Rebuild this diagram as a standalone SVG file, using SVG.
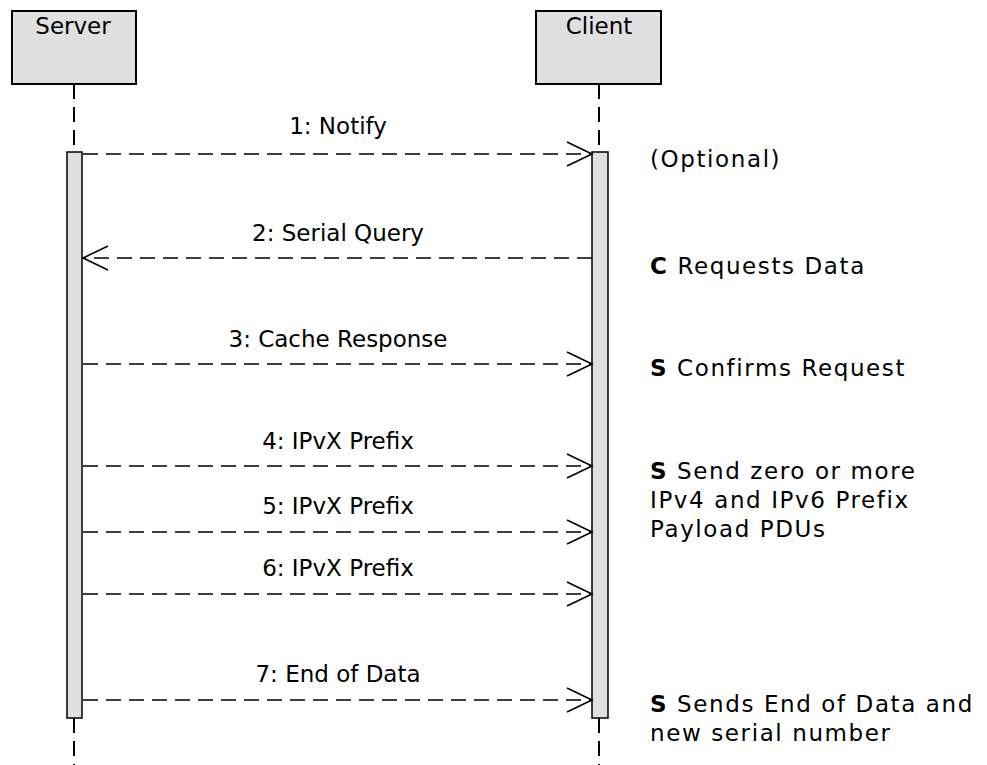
<svg xmlns="http://www.w3.org/2000/svg" width="987" height="765" viewBox="0 0 987 765">
<defs>
<style>
.box{fill:#e0e0e0;stroke:#000;stroke-width:2}
.bar{fill:#e0e0e0;stroke:#000;stroke-width:1.5}
.life{stroke:#000;stroke-width:2;stroke-dasharray:15,8;fill:none}
.msg{stroke:#000;stroke-width:1.6;stroke-dasharray:15,8;fill:none}
.head{stroke:#000;stroke-width:1.6;fill:none}
text{font-family:"DejaVu Sans",sans-serif;font-size:23px;fill:#000}
.lbl{text-anchor:middle}
.ttl{text-anchor:middle}
.nt{font-size:23px;letter-spacing:1.6px}
</style>
</defs>
<g id="server">
<rect class="box" x="12" y="11" width="124" height="73"/>
<text class="ttl" x="73" y="34">Server</text>
<line class="life" x1="74" y1="84" x2="74" y2="152"/>
<line class="life" x1="74" y1="718" x2="74" y2="765"/>
<rect class="bar" x="67" y="152" width="15" height="566"/>
</g>
<g id="client">
<rect class="box" x="536" y="11" width="125" height="73"/>
<text class="ttl" x="599" y="34">Client</text>
<line class="life" x1="599" y1="84" x2="599" y2="152"/>
<line class="life" x1="599" y1="718" x2="599" y2="765"/>
<rect class="bar" x="592" y="152" width="16" height="566"/>
</g>
<g id="connectors">
<line class="msg" x1="83" y1="154" x2="592" y2="154"/>
<polyline class="head" points="567,142 592,154 567,166"/>
<text class="lbl" x="338" y="134">1: Notify</text>
<line class="msg" x1="592" y1="258" x2="83" y2="258"/>
<polyline class="head" points="108,246 83,258 108,270"/>
<text class="lbl" x="338" y="241">2: Serial Query</text>
<line class="msg" x1="83" y1="364" x2="592" y2="364"/>
<polyline class="head" points="567,352 592,364 567,376"/>
<text class="lbl" x="338" y="347">3: Cache Response</text>
<line class="msg" x1="83" y1="466" x2="592" y2="466"/>
<polyline class="head" points="567,454 592,466 567,478"/>
<text class="lbl" x="338" y="449">4: IPvX Prefix</text>
<line class="msg" x1="83" y1="532" x2="592" y2="532"/>
<polyline class="head" points="567,520 592,532 567,544"/>
<text class="lbl" x="338" y="514">5: IPvX Prefix</text>
<line class="msg" x1="83" y1="594" x2="592" y2="594"/>
<polyline class="head" points="567,582 592,594 567,606"/>
<text class="lbl" x="338" y="576">6: IPvX Prefix</text>
<line class="msg" x1="83" y1="700" x2="592" y2="700"/>
<polyline class="head" points="567,688 592,700 567,712"/>
<text class="lbl" x="338" y="682">7: End of Data</text>
</g>
<g id="notes">
<text class="nt" x="650" y="167">(Optional)</text>
<text class="nt" x="650" y="274"><tspan font-weight="bold">C</tspan> Requests Data</text>
<text class="nt" x="650" y="376"><tspan font-weight="bold">S</tspan> Confirms Request</text>
<text class="nt" x="650" y="479"><tspan font-weight="bold">S</tspan> Send zero or more</text>
<text class="nt" x="650" y="508">IPv4 and IPv6 Prefix</text>
<text class="nt" x="650" y="537">Payload PDUs</text>
<text class="nt" x="650" y="712"><tspan font-weight="bold">S</tspan> Sends End of Data and</text>
<text class="nt" x="650" y="741">new serial number</text>
</g>
</svg>
